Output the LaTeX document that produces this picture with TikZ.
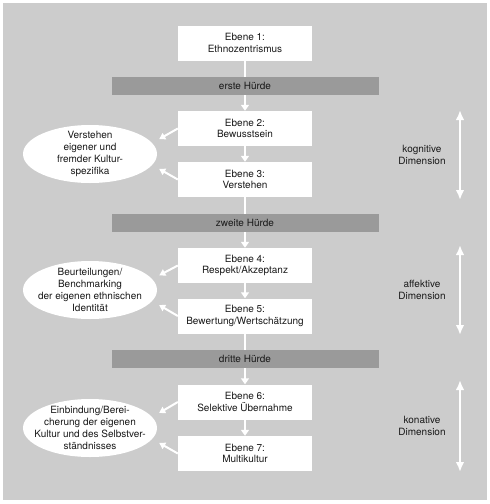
\documentclass[tikz,border=0pt]{standalone}
\usepackage{fontspec}
\setmainfont{TeX Gyre Heros}
\usetikzlibrary{arrows.meta,shapes.geometric}
\definecolor{grund}{HTML}{CCCCCC}
\definecolor{balken}{HTML}{9A9A9A}
\tikzset{
  every node/.style={font=\fontsize{10}{11.8}\selectfont, text=black!90},
  ebene/.style={fill=white, minimum width=134pt, minimum height=35pt, inner sep=0pt, align=center},
  huerde/.style={fill=balken, minimum width=267pt, minimum height=18pt, inner sep=0pt},
  wolke/.style={ellipse, fill=white, minimum width=134pt, minimum height=58pt, inner sep=0pt},
  stufe/.style={draw=white, line width=2.5pt, -{Triangle[width=8pt,length=6pt]}},
  seite/.style={draw=white, line width=2pt, -{Triangle[width=7pt,length=6pt]}, shorten >=8pt},
  dimpfeil/.style={draw=white, line width=2.8pt, {Latex[width=8.5pt,length=10pt]}-{Latex[width=8.5pt,length=10pt]}},
}
\begin{document}
\begin{tikzpicture}[x=1pt,y=-1pt]
    \useasboundingbox (0,0) rectangle (490,504);
    \fill[grund] (3,3) rectangle (487,500);
    \node[ebene] (b1) at (245,43) {Ebene 1:\\Ethnozentrismus};
    \node[ebene] (b2) at (245,128.5) {Ebene 2:\\Bewusstsein};
    \node[ebene] (b3) at (245,179.5) {Ebene 3:\\Verstehen};
    \node[ebene] (b4) at (245,265.5) {Ebene 4:\\Respekt/Akzeptanz};
    \node[ebene] (b5) at (245,316) {Ebene 5:\\Bewertung/Wertschätzung};
    \node[ebene] (b6) at (245,402) {Ebene 6:\\Selektive Übernahme};
    \node[ebene] (b7) at (245,453.5) {Ebene 7:\\Multikultur};
    \node[wolke] (w1) at (90,154) {}; \node[align=center] (w1t) at (w1) {Verstehen\\eigener und\\fremder Kultur-\\spezifika};
    \node[wolke] (w2) at (90,290) {}; \node[align=center] (w2t) at (w2) {Beurteilungen/\\Benchmarking\\der eigenen ethnischen\\Identität};
    \node[wolke] (w3) at (90,428) {}; \node[align=center] (w3t) at (w3) {Einbindung/Berei-\\cherung der eigenen\\Kultur und des Selbstver-\\ständnisses};
    \draw[stufe] (b1) -- (b2); \draw[stufe] (b2) -- (b3); \draw[stufe] (b3) -- (b4);
    \draw[stufe] (b4) -- (b5); \draw[stufe] (b5) -- (b6); \draw[stufe] (b6) -- (b7);
    \node[huerde] (h1) at (245,86) {erste Hürde};
    \node[huerde] (h2) at (245,222.5) {zweite Hürde};
    \node[huerde] (h3) at (245,358.5) {dritte Hürde};
    \draw[seite] (b2.west) -- (w1.10); \draw[seite] (b3.west) -- (w1.-10);
    \draw[seite] (b4.west) -- (w2.10); \draw[seite] (b5.west) -- (w2.-10);
    \draw[seite] (b6.west) -- (w3.10); \draw[seite] (b7.west) -- (w3.-10);
    \coordinate (k1) at (460,110); \coordinate (k2) at (460,200);
    \coordinate (a1) at (460,245); \coordinate (a2) at (460,335);
    \coordinate (n1) at (460,380); \coordinate (n2) at (460,472);
    \draw[dimpfeil] (k1) -- (k2); \draw[dimpfeil] (a1) -- (a2); \draw[dimpfeil] (n1) -- (n2);
    \node[align=center] (kog) at (422,155) {kognitive\\Dimension};
    \node[align=center] (aff) at (422,290) {affektive\\Dimension};
    \node[align=center] (kon) at (422,426) {konative\\Dimension};
\end{tikzpicture}
\end{document}
